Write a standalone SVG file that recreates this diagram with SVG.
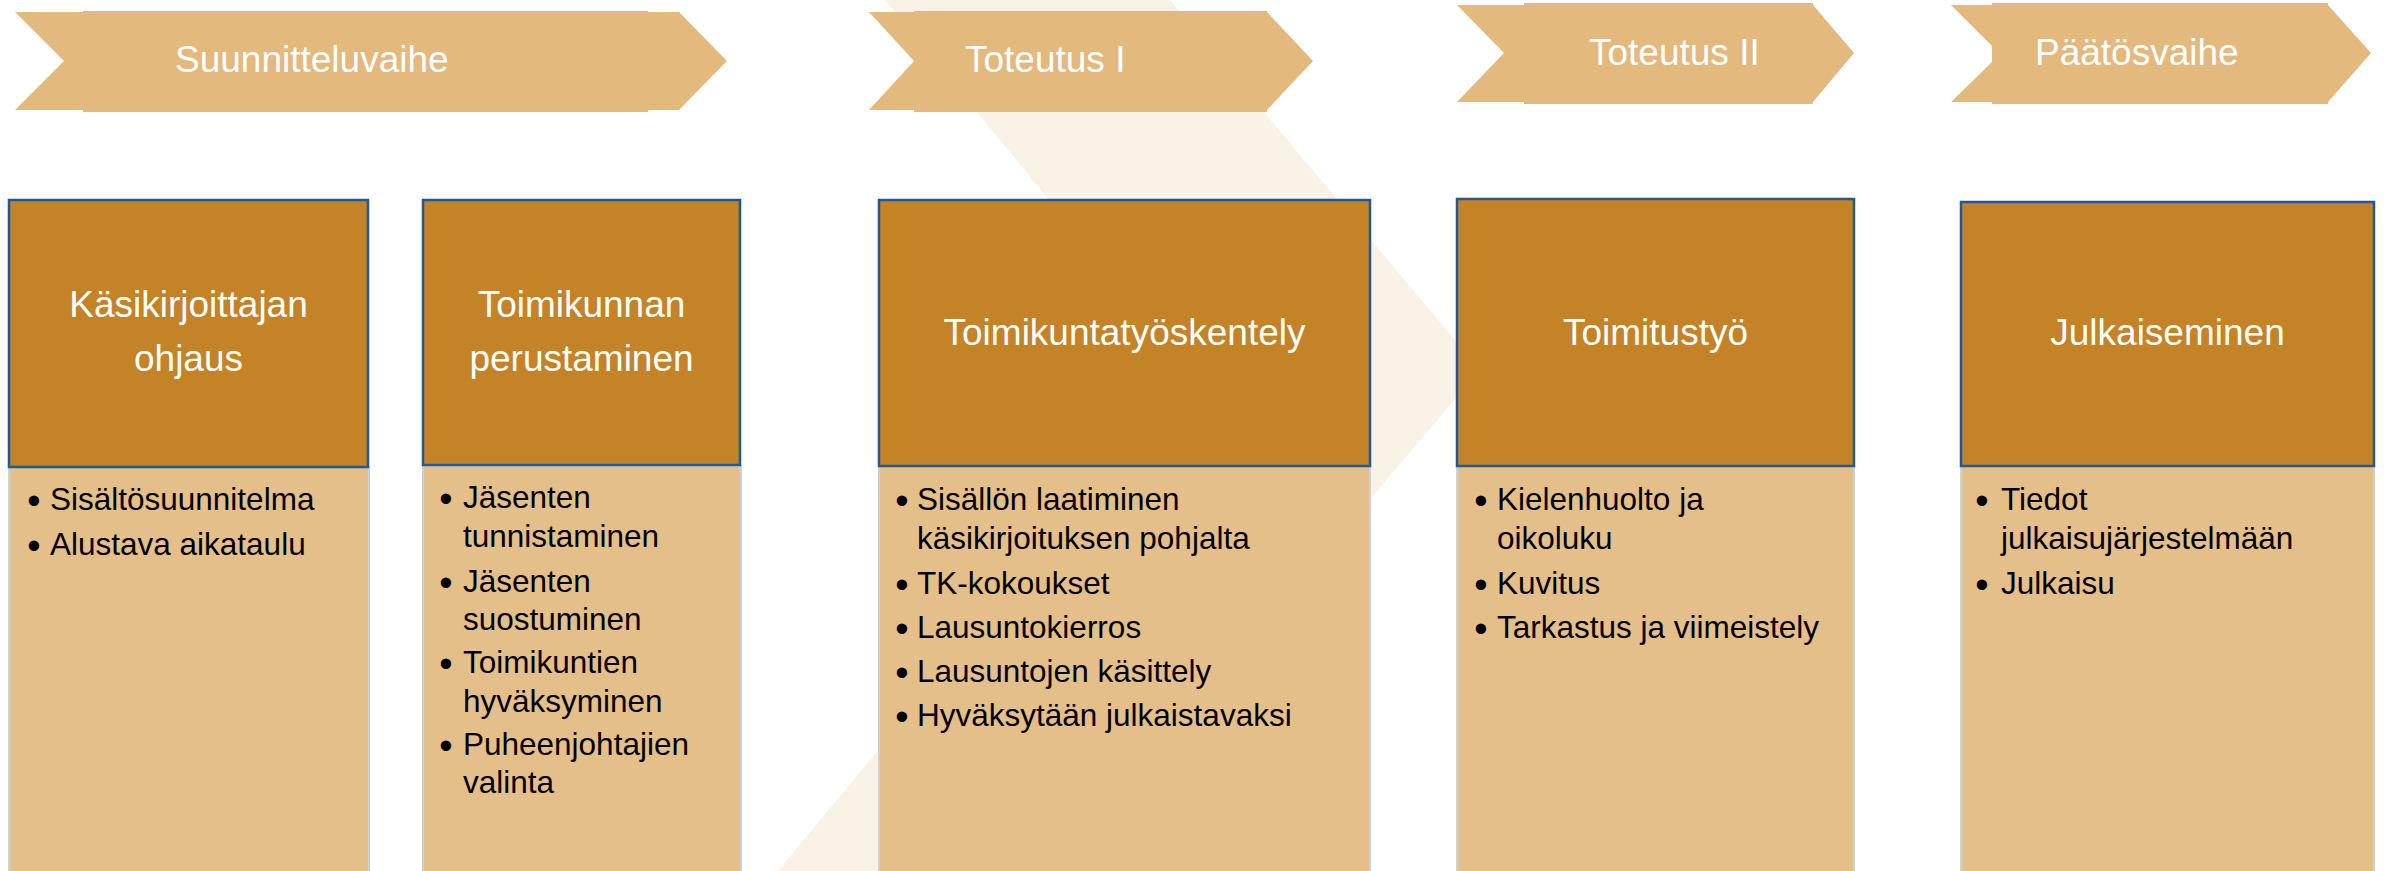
<svg xmlns="http://www.w3.org/2000/svg" width="2387" height="871" viewBox="0 0 2387 871">
<style>
.bg{fill:#F9F2E6}
.ban{fill:#E3B97E}
.bt{font-family:"Liberation Sans",Arial,sans-serif;font-size:37px;fill:#FFFFFF}
.hd{fill:#C48327;stroke:#1F5A96;stroke-width:2.5}
.bd{fill:#E4BF8A;stroke:#CBCFD6;stroke-width:2}
.ht{font-family:"Liberation Sans",Arial,sans-serif;font-size:37px;fill:#FFFFFF;text-anchor:middle}
.lt{font-family:"Liberation Sans",Arial,sans-serif;font-size:31.5px;fill:#000000}
.bl{font-family:"Liberation Sans",Arial,sans-serif;font-size:38px;fill:#000000;text-anchor:middle}
</style>
<rect x="0" y="0" width="2387" height="871" fill="#FFFFFF"/>
<g id="background">
<polygon class="bg" points="885,0 1170,0 1480,370 1054,871 778,871 1191,373"/>
</g>
<g id="phase-suunnitteluvaihe">
<polygon class="ban" points="15,12 679,12 727,61 679,110 15,110 64,61"/>
<rect class="ban" x="83" y="11" width="565" height="101"/>
<text class="bt" x="175" y="72">Suunnitteluvaihe</text>
</g>
<g id="phase-toteutus1">
<polygon class="ban" points="869,12 1267,12 1313,61 1267,110 869,110 914,61"/>
<rect class="ban" x="914" y="11" width="353" height="101"/>
<text class="bt" x="965" y="72">Toteutus I</text>
</g>
<g id="phase-toteutus2">
<polygon class="ban" points="1457,5 1813,5 1854,53 1813,102 1457,102 1504,53"/>
<rect class="ban" x="1524" y="3" width="289" height="101"/>
<text class="bt" x="1589" y="65">Toteutus II</text>
</g>
<g id="phase-paatosvaihe">
<polygon class="ban" points="1951,5 2328,5 2371,53 2328,102 1951,102 1992,62 1992,46"/>
<rect class="ban" x="1992" y="3" width="336" height="101"/>
<text class="bt" x="2035" y="65">Päätösvaihe</text>
</g>
<g id="box-kasikirjoittajan-ohjaus">
<rect class="bd" x="9" y="467" width="360" height="410"/>
<rect class="hd" x="9" y="200" width="359" height="267"/>
<text class="ht" x="188.5" y="317">Käsikirjoittajan</text>
<text class="ht" x="188.5" y="371">ohjaus</text>
<text class="bl" x="34" y="514">•</text>
<text class="lt" x="50" y="510">Sisältösuunnitelma</text>
<text class="bl" x="34" y="559">•</text>
<text class="lt" x="50" y="555">Alustava aikataulu</text>
</g>
<g id="box-toimikunnan-perustaminen">
<rect class="bd" x="423" y="466" width="318" height="410"/>
<rect class="hd" x="423" y="200" width="317" height="265"/>
<text class="ht" x="581.5" y="317">Toimikunnan</text>
<text class="ht" x="581.5" y="371">perustaminen</text>
<text class="bl" x="446" y="512">•</text>
<text class="lt" x="463" y="508">Jäsenten</text>
<text class="lt" x="463" y="547">tunnistaminen</text>
<text class="bl" x="446" y="596">•</text>
<text class="lt" x="463" y="592">Jäsenten</text>
<text class="lt" x="463" y="630">suostuminen</text>
<text class="bl" x="446" y="677">•</text>
<text class="lt" x="463" y="673">Toimikuntien</text>
<text class="lt" x="463" y="712">hyväksyminen</text>
<text class="bl" x="446" y="759">•</text>
<text class="lt" x="463" y="755">Puheenjohtajien</text>
<text class="lt" x="463" y="793">valinta</text>
</g>
<g id="box-toimikuntatyoskentely">
<rect class="bd" x="879" y="466" width="491" height="410"/>
<rect class="hd" x="879" y="200" width="491" height="266"/>
<text class="ht" x="1124.5" y="345">Toimikuntatyöskentely</text>
<text class="bl" x="902" y="514">•</text>
<text class="lt" x="917" y="510">Sisällön laatiminen</text>
<text class="lt" x="917" y="549">käsikirjoituksen pohjalta</text>
<text class="bl" x="902" y="598">•</text>
<text class="lt" x="917" y="594">TK-kokoukset</text>
<text class="bl" x="902" y="642">•</text>
<text class="lt" x="917" y="638">Lausuntokierros</text>
<text class="bl" x="902" y="686">•</text>
<text class="lt" x="917" y="682">Lausuntojen käsittely</text>
<text class="bl" x="902" y="730">•</text>
<text class="lt" x="917" y="726">Hyväksytään julkaistavaksi</text>
</g>
<g id="box-toimitustyo">
<rect class="bd" x="1457" y="466" width="397" height="410"/>
<rect class="hd" x="1457" y="199" width="397" height="267"/>
<text class="ht" x="1655.5" y="345">Toimitustyö</text>
<text class="bl" x="1481" y="514">•</text>
<text class="lt" x="1497" y="510">Kielenhuolto ja</text>
<text class="lt" x="1497" y="549">oikoluku</text>
<text class="bl" x="1481" y="598">•</text>
<text class="lt" x="1497" y="594">Kuvitus</text>
<text class="bl" x="1481" y="642">•</text>
<text class="lt" x="1497" y="638">Tarkastus ja viimeistely</text>
</g>
<g id="box-julkaiseminen">
<rect class="bd" x="1961" y="466" width="413" height="410"/>
<rect class="hd" x="1961" y="202" width="413" height="264"/>
<text class="ht" x="2167.5" y="345">Julkaiseminen</text>
<text class="bl" x="1982" y="514">•</text>
<text class="lt" x="2001" y="510">Tiedot</text>
<text class="lt" x="2001" y="549">julkaisujärjestelmään</text>
<text class="bl" x="1982" y="598">•</text>
<text class="lt" x="2001" y="594">Julkaisu</text>
</g>
<g id="connectors"/>
</svg>
